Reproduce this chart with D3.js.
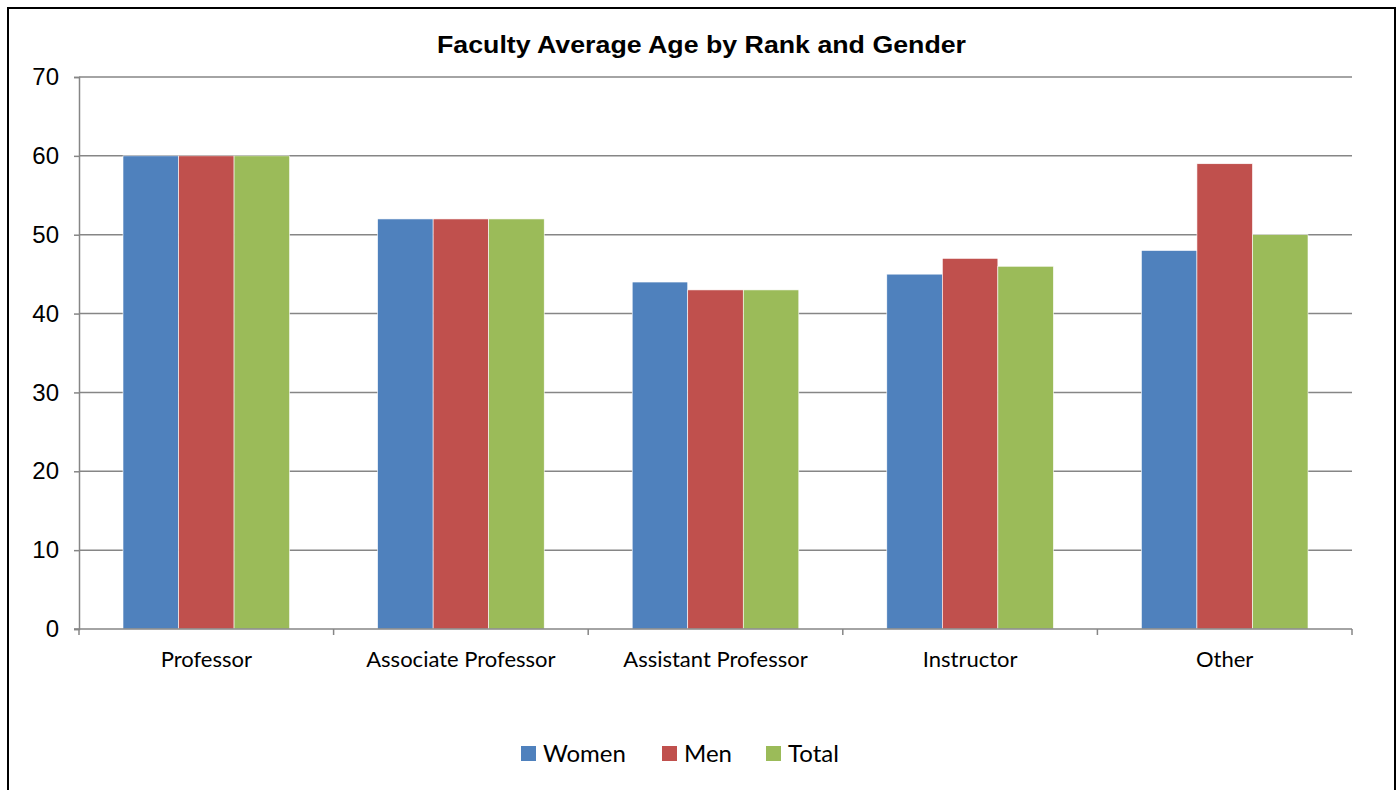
<!DOCTYPE html>
<meta charset="utf-8">
<style>
    body { margin: 0; background: #fff; }
    text { font-family: "Liberation Sans", Arial, sans-serif; }
    .cat text, .legend text { font-family: Lato, "Open Sans", sans-serif; }
</style>
<svg id="mainSVG" width="1400" height="790"></svg>
<script src="https://cdnjs.cloudflare.com/ajax/libs/d3/7.8.5/d3.min.js"></script>
<script>
    var categories = ["Professor", "Associate Professor", "Assistant Professor", "Instructor", "Other"];
    var seriesNames = ["Women", "Men", "Total"];
    var women = [60, 52, 44, 45, 48];
    var men = [60, 52, 43, 47, 59];
    var total = [60, 52, 43, 46, 50];
    var yTicks = [0, 10, 20, 30, 40, 50, 60, 70];
    var colors = ["#4F81BD", "#C0504D", "#9BBB59"];

    var svg = d3.select("svg");
    var plotLeft = 79, plotRight = 1352, plotTop = 77, plotBottom = 629;

    // outer frame
    svg.append("rect")
        .attr("x", 8).attr("y", 8).attr("width", 1387).attr("height", 800)
        .attr("fill", "none").attr("stroke", "#000").attr("stroke-width", 2);

    svg.append("text")
        .attr("x", 437).attr("y", 53)
        .attr("textLength", 529).attr("lengthAdjust", "spacingAndGlyphs")
        .style("font-size", "23px").style("font-weight", "bold")
        .text("Faculty Average Age by Rank and Gender");

    var x0 = d3.scaleBand().domain(categories).range([plotLeft, plotRight]).paddingInner(0).paddingOuter(0);
    var x1 = d3.scaleBand().domain(seriesNames).range([44, x0.bandwidth() - 44]);
    var y = d3.scaleLinear().domain([0, 70]).range([plotBottom, plotTop]);

    // gridlines
    svg.append("g").selectAll("line")
        .data(yTicks.filter(function (d) { return d > 0; }))
        .enter().append("line")
        .attr("x1", plotLeft).attr("x2", plotRight)
        .attr("y1", function (d) { return y(d); })
        .attr("y2", function (d) { return y(d); })
        .attr("stroke", "#868686").attr("stroke-width", 1.5);

    var rows = categories.map(function (c, i) {
        return { cat: c, vals: [women[i], men[i], total[i]] };
    });

    var group = svg.append("g").selectAll("g")
        .data(rows)
        .enter().append("g")
        .attr("transform", function (d) { return "translate(" + x0(d.cat) + ",0)"; });

    group.selectAll("rect")
        .data(function (d) {
            return d.vals.map(function (v, j) { return { name: seriesNames[j], value: v, j: j }; });
        })
        .enter().append("rect")
        .attr("x", function (d) { return x1(d.name); })
        .attr("width", x1.bandwidth())
        .attr("y", function (d) { return y(d.value); })
        .attr("height", function (d) { return plotBottom - y(d.value); })
        .attr("fill", function (d) { return colors[d.j]; })
        .attr("stroke", "#fff").attr("stroke-width", 0.6);

    // y axis
    var yAxis = svg.append("g")
        .attr("transform", "translate(" + plotLeft + ",0)")
        .call(d3.axisLeft(y).tickValues(yTicks).tickSize(5).tickPadding(15));
    yAxis.select(".domain").attr("stroke", "#868686").attr("stroke-width", 1.5);
    yAxis.selectAll(".tick line").attr("stroke", "#868686").attr("stroke-width", 1.5);
    yAxis.selectAll("text").style("font-size", "24px").attr("fill", "#000")
        .attr("font-family", "'Liberation Sans', Arial, sans-serif");

    // x axis
    var xAxis = svg.append("g")
        .attr("class", "cat")
        .attr("transform", "translate(0," + plotBottom + ")");
    xAxis.append("line")
        .attr("x1", plotLeft - 5).attr("x2", plotRight)
        .attr("stroke", "#868686").attr("stroke-width", 1.5);
    var bounds = categories.map(function (c) { return x0(c); }).concat([plotRight]);
    xAxis.selectAll(".tk").data(bounds).enter().append("line")
        .attr("x1", function (d) { return d; }).attr("x2", function (d) { return d; })
        .attr("y1", 0).attr("y2", 6)
        .attr("stroke", "#868686").attr("stroke-width", 1.5);
    xAxis.selectAll("text").data(categories).enter().append("text")
        .attr("x", function (d) { return x0(d) + x0.bandwidth() / 2; })
        .attr("y", 38)
        .attr("text-anchor", "middle")
        .style("font-size", "22px")
        .text(function (d) { return d; });

    // legend
    var legendX = [521, 662, 766];
    var legend = svg.append("g").attr("class", "legend").selectAll("g")
        .data(seriesNames)
        .enter().append("g")
        .attr("transform", function (d, i) { return "translate(" + legendX[i] + ",746)"; });
    legend.append("rect").attr("width", 15).attr("height", 15)
        .attr("fill", function (d, i) { return colors[i]; });
    legend.append("text").attr("x", 22).attr("y", 16)
        .style("font-size", "24px")
        .text(function (d) { return d; });
</script>
